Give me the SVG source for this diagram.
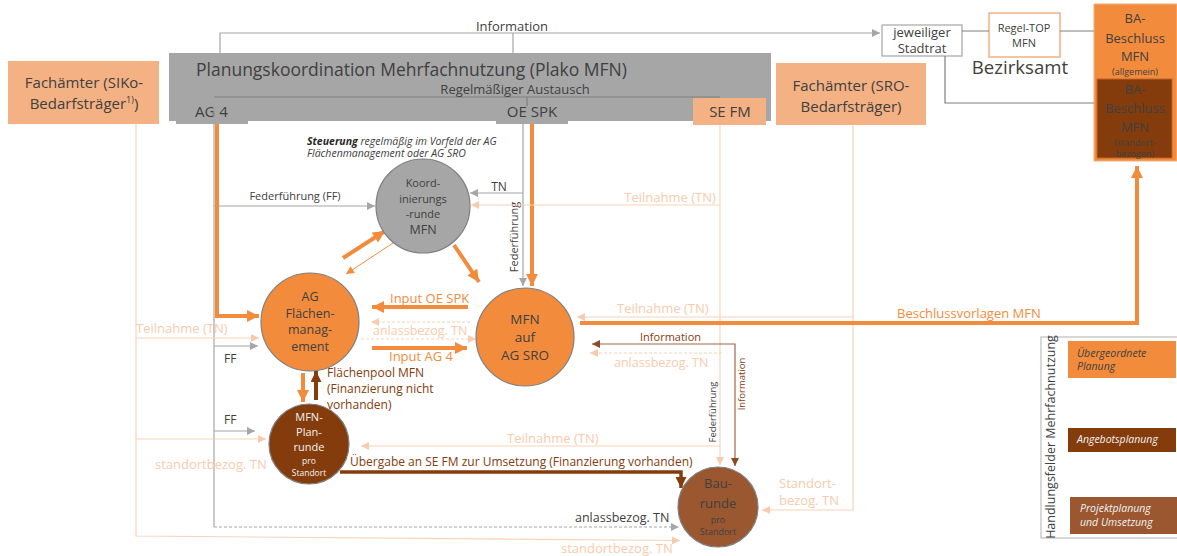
<svg xmlns="http://www.w3.org/2000/svg" width="1177" height="556" viewBox="0 0 1177 556">
<style>
text{font-family:"Open Sans","Noto Sans","DejaVu Sans",sans-serif;fill:#404040}
.m{text-anchor:middle}
.lo{fill:#f8cbad}
.or{fill:#f28c3c}
.br{fill:#843c0c}
.wh{fill:#f2f2f2}
.it{font-style:italic}
.g{stroke:#a6a6a6;stroke-width:1.2;fill:none}
.dg{stroke:#7f7f7f;stroke-width:1.2;fill:none}
.l{stroke:#f9d3b9;stroke-width:1.2;fill:none}
.dash{stroke-dasharray:3,2}
.to{stroke:#f28c3c;stroke-width:4;fill:none}
.tb{stroke:#843c0c;stroke-width:3.5;fill:none}
.bt{stroke:#a0674a;stroke-width:1.2;fill:none}
.circ{stroke:#7f7f7f;stroke-width:1.2}
</style>
<defs>
<marker id="ag" viewBox="0 0 10 10" refX="10" refY="5" markerWidth="9" markerHeight="8" orient="auto" markerUnits="userSpaceOnUse"><path d="M0,0L10,5L0,10z" fill="#a6a6a6"/></marker>
<marker id="al" viewBox="0 0 10 10" refX="10" refY="5" markerWidth="9" markerHeight="8" orient="auto" markerUnits="userSpaceOnUse"><path d="M0,0L10,5L0,10z" fill="#f8cbad"/></marker>
<marker id="ao" viewBox="0 0 10 10" refX="10" refY="5" markerWidth="13" markerHeight="12" orient="auto" markerUnits="userSpaceOnUse"><path d="M0,0L10,5L0,10z" fill="#f28c3c"/></marker>
<marker id="aot" viewBox="0 0 10 10" refX="10" refY="5" markerWidth="9" markerHeight="8" orient="auto" markerUnits="userSpaceOnUse"><path d="M0,0L10,5L0,10z" fill="#f28c3c"/></marker>
<marker id="ab" viewBox="0 0 10 10" refX="10" refY="5" markerWidth="12" markerHeight="11" orient="auto" markerUnits="userSpaceOnUse"><path d="M0,0L10,5L0,10z" fill="#843c0c"/></marker>
<marker id="abt" viewBox="0 0 10 10" refX="10" refY="5" markerWidth="9" markerHeight="8" orient="auto-start-reverse" markerUnits="userSpaceOnUse"><path d="M0,0L10,5L0,10z" fill="#8b4a22"/></marker>
</defs>
<rect width="1177" height="556" fill="#ffffff"/>

<g id="plako">
<rect x="169" y="53" width="602" height="68" fill="#a6a6a6"/>
<rect x="176" y="105" width="72" height="19" fill="#a6a6a6"/>
<rect x="496" y="105" width="72" height="19" fill="#a6a6a6"/>
<text x="196" y="76" font-size="17.5">Planungskoordination Mehrfachnutzung (Plako MFN)</text>
<path class="dg" d="M214,97H719V100M527,97V106"/>
<text class="m" x="515" y="94" font-size="13">Regelmäßiger Austausch</text>
<text x="195" y="117" font-size="15">AG 4</text>
<text class="m" x="532" y="117" font-size="15">OE SPK</text>
</g>

<g id="sefm">
<rect x="693" y="98" width="73" height="27" fill="#f4b183"/>
<text class="m" x="730" y="117" font-size="15">SE FM</text>
</g>

<g id="fach-siko">
<rect x="8" y="61" width="151" height="63" fill="#f4b183"/>
<text class="m" x="84" y="88" font-size="15">Fachämter (SIKo-</text>
<text class="m" x="84" y="109" font-size="15">Bedarfsträger<tspan font-size="9" dy="-6">1)</tspan><tspan dy="6">)</tspan></text>
</g>

<g id="fach-sro">
<rect x="776" y="63" width="150" height="62" fill="#f4b183"/>
<text class="m" x="851" y="91" font-size="15">Fachämter (SRO-</text>
<text class="m" x="851" y="112" font-size="15">Bedarfsträger)</text>
</g>

<g id="stadtrat">
<rect x="882" y="25" width="80" height="31" fill="#ffffff" stroke="#a6a6a6" stroke-width="1.2"/>
<text class="m" x="922" y="37" font-size="13">jeweiliger</text>
<text class="m" x="922" y="53" font-size="13">Stadtrat</text>
</g>

<g id="regeltop">
<rect x="989" y="13" width="71" height="44" fill="#ffffff" stroke="#f4b183" stroke-width="1.5"/>
<text class="m" x="1024" y="32" font-size="11">Regel-TOP</text>
<text class="m" x="1024" y="47" font-size="11">MFN</text>
</g>

<g id="bezirksamt">
<text class="m" x="1020" y="74" font-size="18.6" fill="#262626">Bezirksamt</text>
</g>

<g id="ba-allgemein">
<rect x="1094" y="4" width="83" height="157" fill="#f28c3c" stroke="#f6b07a" stroke-width="1"/>
<text class="m" x="1135" y="23" font-size="13" fill="#3a2a20">BA-</text>
<text class="m" x="1135" y="43" font-size="13" fill="#3a2a20">Beschluss</text>
<text class="m" x="1135" y="61" font-size="13" fill="#3a2a20">MFN</text>
<text class="m" x="1135" y="75" font-size="9" fill="#3a2a20">(allgemein)</text>
</g>

<g id="ba-standort">
<rect x="1097" y="79" width="75" height="79" fill="#843c0c" stroke="#c0642a" stroke-width="1"/>
<text class="m" x="1135" y="94" font-size="13" fill="#d9d9d9">BA-</text>
<text class="m" x="1135" y="113" font-size="13" fill="#d9d9d9">Beschluss</text>
<text class="m" x="1135" y="132" font-size="13" fill="#d9d9d9">MFN</text>
<text class="m" x="1135" y="146" font-size="9" fill="#d9d9d9">(standort-</text>
<text class="m" x="1135" y="157" font-size="9" fill="#d9d9d9">bezogen)</text>
</g>

<g id="steuerung">
<text x="307" y="145" font-size="10.5" class="it"><tspan font-weight="bold" fill="#262626">Steuerung</tspan> regelmäßig im Vorfeld der AG</text>
<text x="307" y="157" font-size="10.5" class="it">Flächenmanagement oder AG SRO</text>
</g>

<g id="connectors">
<!-- top information -->
<path class="g" d="M220,53V33H880" marker-end="url(#ag)"/>
<path class="g" d="M513,33V53"/>
<text class="m" x="512" y="31" font-size="13">Information</text>
<!-- Bezirksamt lines -->
<path class="dg" d="M962,31H989M1060,31H1094M945,56V103H1094"/>
<!-- gray AG4 vertical -->
<path class="g" d="M214,97V527"/>
<path class="g dash" d="M214,527H679" marker-end="url(#ag)"/>
<text x="575" y="522" font-size="12.5">anlassbezog. TN</text>
<path class="g" d="M214,206H375" marker-end="url(#ag)"/>
<text class="m" x="295" y="200" font-size="11">Federführung (FF)</text>
<path class="g" d="M214,346H258" marker-end="url(#ag)"/>
<text x="224" y="363" font-size="12">FF</text>
<path class="g" d="M214,431H255" marker-end="url(#ag)"/>
<text x="224" y="424" font-size="12">FF</text>
<!-- light SIKo vertical -->
<path class="l" d="M136,124V536L680,540.5" marker-end="url(#al)"/>
<text class="lo" x="561" y="553" font-size="13">standortbezog. TN</text>
<path class="l" d="M136,338H259" marker-end="url(#al)"/>
<text class="lo" x="136" y="333" font-size="13">Teilnahme (TN)</text>
<path class="l" d="M136,439H266" marker-end="url(#al)"/>
<text class="lo" x="155" y="469" font-size="13">standortbezog. TN</text>
<!-- thick AG4 -->
<path class="to" d="M217,124V316H259" marker-end="url(#ao)"/>
<!-- OE SPK -->
<path class="g" d="M523,124V286" marker-end="url(#ag)"/>
<path class="g" d="M523,193H470" marker-end="url(#ag)"/>
<text class="m" x="499" y="191" font-size="12">TN</text>
<text class="m" transform="translate(518,237) rotate(-90)" font-size="11">Federführung</text>
<path class="to" d="M532,124V286" marker-end="url(#ao)"/>
<!-- Koord links -->
<path class="to" d="M454,245L479,282" marker-end="url(#ao)"/>
<path class="to" d="M343,258L385,231" marker-end="url(#ao)"/>
<path d="M393,243L346,274" stroke="#f28c3c" stroke-width="1" fill="none" marker-end="url(#aot)"/>
<!-- SE FM vertical -->
<path class="l" d="M720,125V465" marker-end="url(#al)"/>
<path class="l" d="M720,205H471" marker-end="url(#al)"/>
<text class="lo m" x="670" y="202" font-size="13">Teilnahme (TN)</text>
<path class="l" d="M720,446H361" marker-end="url(#al)"/>
<text class="lo" x="507" y="443" font-size="13">Teilnahme (TN)</text>
<text class="m" transform="translate(716,412) rotate(-90)" font-size="9.5">Federführung</text>
<!-- SRO vertical -->
<path class="l" d="M853,125V510H762" marker-end="url(#al)"/>
<text class="lo" x="779" y="488" font-size="13">Standort-</text>
<text class="lo" x="779" y="505" font-size="13">bezog. TN</text>
<path class="l" d="M853,317H577" marker-end="url(#al)"/>
<text class="lo" x="617" y="313" font-size="13">Teilnahme (TN)</text>
<!-- Beschlussvorlagen -->
<path class="to" d="M580,323H1137V166" marker-end="url(#ao)"/>
<text class="or" x="897" y="318" font-size="13">Beschlussvorlagen MFN</text>
<!-- AG Fl <-> SRO -->
<path class="to" d="M468,307H372" marker-end="url(#ao)"/>
<text class="or" x="390" y="303" font-size="13">Input OE SPK</text>
<path class="l dash" d="M470,322H371" marker-end="url(#al)"/>
<text class="lo" x="373" y="335" font-size="12.5">anlassbezog. TN</text>
<path class="l dash" d="M361,339H476" marker-end="url(#al)"/>
<path class="to" d="M372,348H467" marker-end="url(#ao)"/>
<text class="or" x="389" y="361" font-size="13">Input AG 4</text>
<!-- Flächenpool -->
<path class="to" d="M303,373V402" marker-end="url(#ao)"/>
<path d="M316,400V371" stroke="#843c0c" stroke-width="4" fill="none" marker-end="url(#ab)"/>
<text class="br" x="327" y="377" font-size="12">Flächenpool MFN</text>
<text class="br" x="327" y="393" font-size="12">(Finanzierung nicht</text>
<text class="br" x="327" y="409" font-size="12">vorhanden)</text>
<!-- Übergabe -->
<path class="tb" d="M340,472H681V488" marker-end="url(#ab)"/>
<text class="br" x="350" y="466" font-size="12">Übergabe an SE FM zur Umsetzung (Finanzierung vorhanden)</text>
<!-- Information brown -->
<path class="bt" d="M735,466V344H592" marker-start="url(#abt)" marker-end="url(#abt)"/>
<text class="br" x="640" y="341" font-size="11">Information</text>
<text class="br m" transform="translate(745,384) rotate(-90)" font-size="9.5">Information</text>
<path class="l dash" d="M722,353H590" marker-end="url(#al)"/>
<text class="lo" x="614" y="367" font-size="12.5">anlassbezog. TN</text>
</g>

<g id="koord">
<circle cx="423" cy="206" r="47" fill="#a6a6a6" class="circ"/>
<text class="m" x="423" y="187" font-size="11" fill="#262626">Koord-</text>
<text class="m" x="423" y="203" font-size="11" fill="#262626">inierungs</text>
<text class="m" x="423" y="218" font-size="11" fill="#262626">-runde</text>
<text class="m" x="423" y="234" font-size="12.5" fill="#262626">MFN</text>
</g>

<g id="ag-flaechen">
<circle cx="310" cy="322" r="49" fill="#f28c3c" class="circ"/>
<text class="m" x="310" y="301" font-size="12.5" fill="#262626">AG</text>
<text class="m" x="310" y="318" font-size="12.5" fill="#262626">Flächen-</text>
<text class="m" x="310" y="334" font-size="12.5" fill="#262626">manag-</text>
<text class="m" x="310" y="351" font-size="12.5" fill="#262626">ement</text>
</g>

<g id="mfn-sro">
<circle cx="525" cy="337" r="49" fill="#f28c3c" class="circ"/>
<text class="m" x="525" y="324" font-size="13.5" fill="#1a1a1a">MFN</text>
<text class="m" x="525" y="342" font-size="13.5" fill="#1a1a1a">auf</text>
<text class="m" x="525" y="360" font-size="13.5" fill="#1a1a1a">AG SRO</text>
</g>

<g id="planrunde">
<circle cx="309" cy="444" r="40" fill="#843c0c" class="circ"/>
<text class="m wh" x="309" y="421" font-size="11">MFN-</text>
<text class="m wh" x="309" y="436" font-size="11">Plan-</text>
<text class="m wh" x="309" y="451" font-size="11">runde</text>
<text class="m wh" x="309" y="464" font-size="8.5">pro</text>
<text class="m wh" x="309" y="476" font-size="8.5">Standort</text>
</g>

<g id="baurunde">
<circle cx="718" cy="507" r="40" fill="#9a5730" class="circ"/>
<text class="m" x="718" y="488" font-size="13" fill="#e6e6e6">Bau-</text>
<text class="m" x="718" y="508" font-size="13" fill="#e6e6e6">runde</text>
<text class="m" x="718" y="523" font-size="9" fill="#f2f2f2">pro</text>
<text class="m" x="718" y="535" font-size="9" fill="#f2f2f2">Standort</text>
</g>

<g id="legend">
<rect x="1041" y="337" width="145" height="201" fill="none" stroke="#bfbfbf" stroke-width="1.2"/>
<text class="m" transform="translate(1055,437) rotate(-90)" font-size="12.5">Handlungsfelder Mehrfachnutzung</text>
<rect x="1068" y="341" width="108" height="37" fill="#f28c3c"/>
<text class="it" x="1077" y="357" font-size="10.5" fill="#262626">Übergeordnete</text>
<text class="it" x="1077" y="370" font-size="10.5" fill="#262626">Planung</text>
<rect x="1068" y="428" width="108" height="24" fill="#843c0c"/>
<text class="it wh" x="1077" y="443" font-size="10.5">Angebotsplanung</text>
<rect x="1070" y="497" width="107" height="37" fill="#9a5730"/>
<text class="it wh" x="1080" y="512" font-size="10.5">Projektplanung</text>
<text class="it wh" x="1080" y="526" font-size="10.5">und Umsetzung</text>
</g>
</svg>
